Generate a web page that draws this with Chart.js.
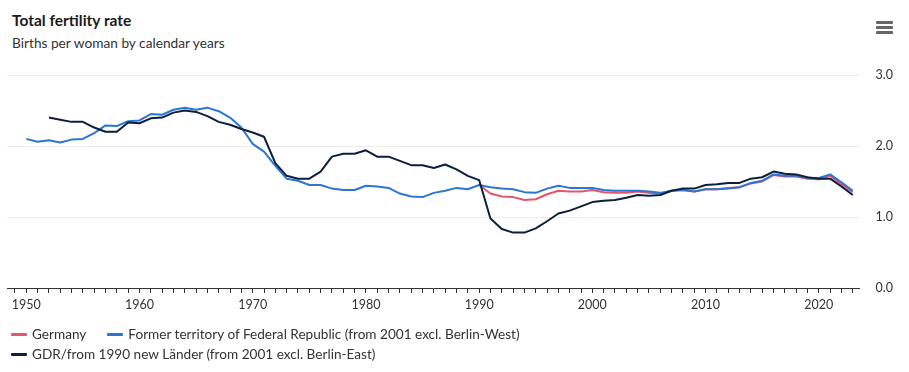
<!DOCTYPE html>
<html>
<head>
<meta charset="utf-8">
<script src="https://cdn.jsdelivr.net/npm/chart.js@4.4.1/dist/chart.umd.min.js"></script>
<style>
  html, body { margin: 0; padding: 0; background: #fff; }
  body { width: 909px; height: 372px; position: relative; overflow: hidden; font-family: Lato, sans-serif; color: #333; }
  .title { position: absolute; left: 12px; top: 13px; font-size: 15.5px; line-height: 15px; font-weight: bold; color: #1b1b1b; white-space: nowrap; }
  .subtitle { position: absolute; left: 12px; top: 36px; font-size: 13.7px; line-height: 13px; color: #333; white-space: nowrap; }
  .menu { position: absolute; left: 876px; top: 21px; width: 17px; }
  .menu span { display: block; height: 3px; background: #666; margin-bottom: 2px; border-radius: 1px; }
  #chart { position: absolute; left: 0; top: 0; }
  .legend-row { position: absolute; left: 11px; height: 13px; display: flex; align-items: center; font-size: 13.6px; line-height: 13px; white-space: nowrap; color: #333; }
  .item { display: flex; align-items: center; margin-right: 21px; }
  .swatch { width: 16px; height: 3px; margin-right: 5px; border-radius: 1px; }
</style>
</head>
<body>
<div class="title">Total fertility rate</div>
<div class="subtitle">Births per woman by calendar years</div>
<div class="menu"><span></span><span></span><span></span></div>
<canvas id="chart" width="909" height="372"></canvas>
<div class="legend-row" id="row1" style="top:328px"></div>
<div class="legend-row" id="row2" style="top:348px"></div>
<script>
// tick labels on the year axis
const tickLabels = [1950, 1960, 1970, 1980, 1990, 2000, 2010, 2020];
const firstTickYear = 1949;
const lastTickYear = 2023;

// Germany, from 1990
const germanyFrom = 1990;
const germany = [
  1.45, 1.33, 1.29, 1.28, 1.24, 1.25, 1.32, 1.37, 1.36, 1.36,
  1.38, 1.35, 1.34, 1.34, 1.36, 1.34, 1.33, 1.37, 1.38, 1.36,
  1.39, 1.39, 1.41, 1.42, 1.47, 1.50, 1.59, 1.57, 1.57, 1.54,
  1.53, 1.58, 1.46, 1.35
];

// Former territory of the Federal Republic, from 1950
const formerFrom = 1950;
const former = [
  2.10, 2.06, 2.08, 2.05, 2.09, 2.10, 2.18, 2.29, 2.28, 2.35,
  2.36, 2.45, 2.44, 2.51, 2.54, 2.51, 2.54, 2.49, 2.40, 2.26,
  2.03, 1.92, 1.72, 1.54, 1.51, 1.45, 1.45, 1.40, 1.38, 1.38,
  1.44, 1.43, 1.41, 1.33, 1.29, 1.28, 1.34, 1.37, 1.41, 1.39,
  1.45, 1.42, 1.40, 1.39, 1.35, 1.34, 1.40, 1.44, 1.41, 1.41,
  1.41, 1.38, 1.37, 1.37, 1.37, 1.36, 1.34, 1.37, 1.38, 1.36,
  1.39, 1.39, 1.40, 1.42, 1.48, 1.51, 1.60, 1.58, 1.58, 1.55,
  1.55, 1.60, 1.49, 1.37
];

// GDR / new Länder, from 1952
const gdrFrom = 1952;
const gdr = [
  2.40, 2.37, 2.34, 2.34, 2.26, 2.20, 2.20, 2.33, 2.32, 2.39,
  2.40, 2.47, 2.50, 2.48, 2.42, 2.34, 2.30, 2.24, 2.19, 2.13,
  1.76, 1.58, 1.54, 1.54, 1.64, 1.85, 1.89, 1.89, 1.94, 1.85,
  1.85, 1.79, 1.73, 1.73, 1.69, 1.74, 1.67, 1.58, 1.52, 0.98,
  0.83, 0.78, 0.78, 0.84, 0.94, 1.05, 1.09, 1.15, 1.21, 1.23,
  1.24, 1.27, 1.31, 1.30, 1.31, 1.37, 1.40, 1.40, 1.45, 1.46,
  1.48, 1.48, 1.54, 1.56, 1.64, 1.61, 1.60, 1.56, 1.54, 1.54,
  1.43, 1.31
];

const toPoints = (from, values) => values.map((v, i) => ({ x: from + i, y: v }));

const font = { family: "Lato", size: 12.5 };

const chart = new Chart(document.getElementById("chart"), {
  type: "line",
  data: {
    datasets: [
      { label: "Germany", data: toPoints(germanyFrom, germany), borderColor: "#e5566b", order: 2 },
      { label: "Former territory of Federal Republic (from 2001 excl. Berlin-West)", data: toPoints(formerFrom, former), borderColor: "#2c76d1", order: 1 },
      { label: "GDR/from 1990 new Länder (from 2001 excl. Berlin-East)", data: toPoints(gdrFrom, gdr), borderColor: "#0c1f3f", order: 0 }
    ]
  },
  options: {
    responsive: false,
    animation: false,
    layout: { padding: { top: 75, left: 7, right: 0, bottom: 56 } },
    elements: {
      point: { radius: 0 },
      line: { tension: 0, borderWidth: 2, borderJoinStyle: "round" }
    },
    plugins: {
      legend: { display: false },
      tooltip: { enabled: false }
    },
    scales: {
      x: {
        type: "linear",
        min: 1948.3,
        max: 2023.6,
        afterBuildTicks: axis => {
          const ticks = [];
          for (let y = firstTickYear; y <= lastTickYear; y++) ticks.push({ value: y });
          axis.ticks = ticks;
        },
        ticks: {
          autoSkip: false,
          maxRotation: 0,
          padding: 4,
          color: "#333",
          font: font,
          callback: v => (tickLabels.includes(v) ? String(v) : "")
        },
        grid: { drawOnChartArea: false, drawTicks: true, tickLength: 5, color: "#333" },
        border: { color: "#333", width: 1 }
      },
      y: {
        position: "right",
        min: 0,
        max: 3,
        ticks: {
          stepSize: 1,
          padding: 16,
          color: "#333",
          font: font,
          callback: v => v.toFixed(1)
        },
        grid: {
          drawTicks: false,
          color: c => (c.tick && c.tick.value === 0 ? "rgba(0,0,0,0)" : "#ececec")
        },
        border: { display: false }
      }
    }
  }
});

// html legend built from the datasets
const rows = [document.getElementById("row1"), document.getElementById("row1"), document.getElementById("row2")];
chart.data.datasets.forEach((ds, i) => {
  const item = document.createElement("div");
  item.className = "item";
  const sw = document.createElement("span");
  sw.className = "swatch";
  sw.style.background = ds.borderColor;
  const txt = document.createElement("span");
  txt.textContent = ds.label;
  item.appendChild(sw);
  item.appendChild(txt);
  rows[i].appendChild(item);
});
</script>
</body>
</html>
